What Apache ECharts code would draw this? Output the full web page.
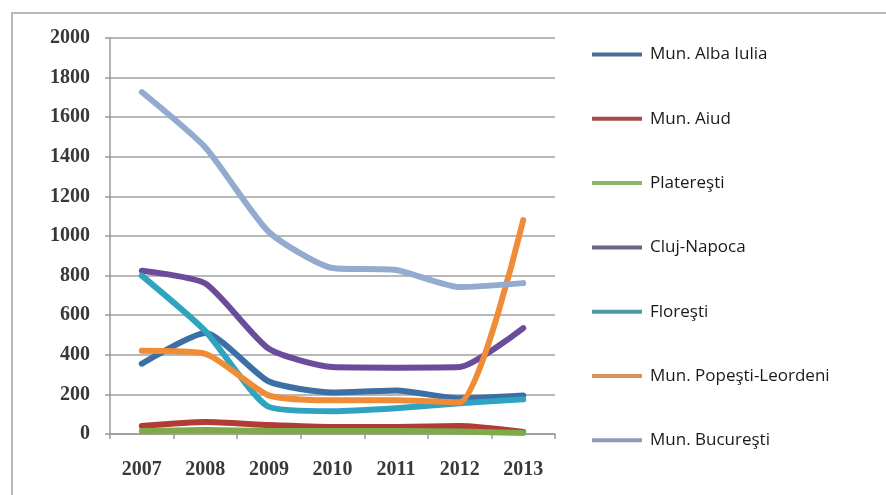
<!DOCTYPE html>
<html>
<head>
<meta charset="utf-8">
<script src="https://cdn.jsdelivr.net/npm/echarts@6/dist/echarts.min.js"></script>
<style>
  html, body { margin: 0; padding: 0; background: #fff; }
  #chart { width: 886px; height: 495px; }
</style>
</head>
<body>
<div id="chart"></div>
<script>
// Years on the horizontal axis
const years = ['2007', '2008', '2009', '2010', '2011', '2012', '2013'];

// Values per locality, one array per line
const albaIulia = [355, 510, 265, 210, 220, 180, 195];
const aiud = [40, 60, 45, 35, 35, 40, 10];
const plateresti = [15, 20, 15, 15, 15, 12, 5];
const clujNapoca = [825, 760, 430, 338, 335, 338, 535];
const floresti = [800, 520, 137, 115, 130, 155, 175];
const popesti = [420, 405, 195, 170, 170, 160, 1080];
const bucuresti = [1727, 1447, 1020, 838, 828, 742, 762];

// Vertical axis ticks
const yTicks = [0, 200, 400, 600, 800, 1000, 1200, 1400, 1600, 1800, 2000];

const seriesDefs = [
  { name: 'Mun. Alba Iulia', data: albaIulia, color: '#3b6fa6', legend: '#4a6f92' },
  { name: 'Mun. Aiud', data: aiud, color: '#b03c35', legend: '#a84a4a' },
  { name: 'Plateşti', data: plateresti, color: '#7cab4a', legend: '#8db36a' },
  { name: 'Cluj-Napoca', data: clujNapoca, color: '#6b4c9a', legend: '#676788' },
  { name: 'Floreşti', data: floresti, color: '#2fa3bf', legend: '#4c9aa8' },
  { name: 'Mun. Popeşti-Leordeni', data: popesti, color: '#ef8c35', legend: '#d8925e' },
  { name: 'Mun. Bucureşti', data: bucuresti, color: '#93abcf', legend: '#8c9db2' }
];
seriesDefs[2].name = 'Plat' + 'ereşti';

const chart = echarts.init(document.getElementById('chart'), null, { renderer: 'canvas' });

chart.setOption({
  backgroundColor: '#ffffff',
  animation: false,
  graphic: [
    // outer frame (top and left edges)
    { type: 'line', shape: { x1: 11, y1: 13, x2: 886, y2: 13 }, style: { stroke: '#b9b9b9', lineWidth: 2 } },
    { type: 'line', shape: { x1: 12, y1: 13, x2: 12, y2: 495 }, style: { stroke: '#b9b9b9', lineWidth: 2 } }
  ],
  grid: { left: 110, right: 331, top: 38, bottom: 61 },
  legend: {
    orient: 'vertical',
    left: 592,
    top: 44,
    padding: 0,
    itemGap: 43.3,
    itemWidth: 50,
    itemHeight: 4,
    icon: 'rect',
    textStyle: { fontFamily: 'Open Sans', fontSize: 17, color: '#1a1a1a', lineHeight: 21, padding: [0, 0, 0, 3] },
    data: seriesDefs.map(s => ({ name: s.name, itemStyle: { color: s.legend } }))
  },
  xAxis: {
    type: 'category',
    data: years,
    boundaryGap: true,
    axisLine: { show: true, lineStyle: { color: '#9a9a9a', width: 1.5 } },
    axisTick: { show: true, inside: false, length: 5, alignWithLabel: false, lineStyle: { color: '#9a9a9a', width: 1.5 } },
    axisLabel: { margin: 26, fontFamily: 'Liberation Serif', fontSize: 20, fontWeight: 'bold', color: '#383838' }
  },
  yAxis: {
    type: 'value',
    min: 0,
    max: 2000,
    interval: 200,
    axisLine: { show: true, lineStyle: { color: '#9a9a9a', width: 1.5 } },
    axisTick: { show: true, length: 5, lineStyle: { color: '#9a9a9a', width: 1.5 } },
    splitLine: { show: true, lineStyle: { color: '#a0a0a0', width: 1.5 } },
    axisLabel: {
      margin: 20,
      fontFamily: 'Liberation Serif', fontSize: 20, fontWeight: 'bold', color: '#383838',
      formatter: v => (yTicks.indexOf(v) >= 0 ? String(v) : '')
    }
  },
  series: seriesDefs.map(s => ({
    name: s.name,
    type: 'line',
    data: s.data,
    smooth: 0.2,
    showSymbol: false,
    symbol: 'none',
    lineStyle: { color: s.color, width: 6, cap: 'round', join: 'round' },
    itemStyle: { color: s.color }
  }))
});
</script>
</body>
</html>
